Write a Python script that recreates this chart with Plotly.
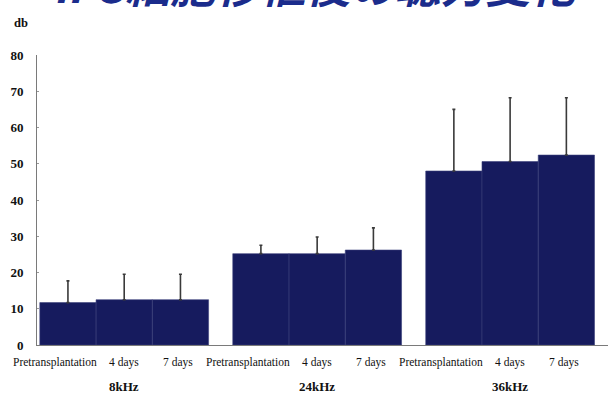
import plotly.graph_objects as go

# Hearing threshold (dB) before and after transplantation, by test frequency
frequencies = ["8kHz", "24kHz", "36kHz"]
timepoints = ["Pretransplantation", "4 days", "7 days"]
threshold_db = [
    [11.7, 12.5, 12.5],   # 8kHz
    [25.2, 25.2, 26.2],   # 24kHz
    [48.0, 50.6, 52.4],   # 36kHz
]
sd_db = [
    [6.0, 7.0, 7.0],
    [2.3, 4.6, 6.1],
    [17.0, 17.6, 15.8],
]
y_ticks = [0, 10, 20, 30, 40, 50, 60, 70, 80]
title_text = "iPS細胞移植後の聴力変化"

GROUP_GAP = 0.43   # space between frequency groups, in bar widths
BAR_COLOR = "#161b5e"
SERIF = "Liberation Serif"
PLOT_W, PLOT_H = 571, 290

xs, ys, errs = [], [], []
for g, (vals, sds) in enumerate(zip(threshold_db, sd_db)):
    for i, (v, s) in enumerate(zip(vals, sds)):
        xs.append(g * (len(timepoints) + GROUP_GAP) + i)
        ys.append(v)
        errs.append(s)

fig = go.Figure()
fig.add_trace(go.Bar(
    x=xs, y=ys, width=1,
    marker=dict(color=BAR_COLOR, line=dict(color="#3a3f7a", width=0.6)),
    error_y=dict(type="data", array=errs, arrayminus=[0] * len(errs),
                 symmetric=False, color="#3a3a3a", thickness=1.6, width=1.5),
    hoverinfo="y",
))

annotations = []
# time-point labels under each bar
for k, x in enumerate(xs):
    label = timepoints[k % len(timepoints)]
    shift = -13 if label == "Pretransplantation" else (-2 if label == "7 days" else 0)
    annotations.append(dict(
        x=x, y=0, xref="x", yref="y", text=label, showarrow=False,
        yanchor="top", yshift=-9, xshift=shift,
        font=dict(family=SERIF, size=11.5, color="#111"),
    ))
# frequency labels under each group
for g, name in enumerate(frequencies):
    annotations.append(dict(
        x=g * (len(timepoints) + GROUP_GAP) + 1, y=0, xref="x", yref="y",
        text="<b>%s</b>" % name, showarrow=False, yanchor="top", yshift=-32,
        font=dict(family=SERIF, size=13, color="#111"),
    ))
# unit label
annotations.append(dict(
    x=(12 - 37) / PLOT_W, y=1 + 32 / PLOT_H, xref="paper", yref="paper",
    text="<b>db</b>", showarrow=False, xanchor="left", yanchor="middle",
    font=dict(family=SERIF, size=12.5, color="#111"),
))
# heading, running off the top edge of the page
annotations.append(dict(
    x=0.49, y=1, xref="paper", yref="paper", text="<b><i>%s</i></b>" % title_text,
    showarrow=False, xanchor="center", yanchor="bottom", yshift=37,
    font=dict(family="Noto Sans CJK JP", size=45, color="#1b2c8c"),
))

fig.update_layout(
    width=608, height=397,
    margin=dict(l=37, r=0, t=55, b=52),
    paper_bgcolor="white", plot_bgcolor="white",
    showlegend=False,
    annotations=annotations,
    xaxis=dict(range=[-0.55, 9.6], showticklabels=False, ticks="",
               showgrid=False, zeroline=False, showline=True,
               linecolor="#7a7a7a", linewidth=1),
    yaxis=dict(range=[0, 80], tickvals=y_ticks, ticktext=[str(t) for t in y_ticks],
               showgrid=False, zeroline=False, showline=True,
               linecolor="#7a7a7a", linewidth=1, ticks="inside", ticklen=2,
               tickcolor="#999", ticklabelstandoff=10,
               tickfont=dict(family=SERIF, size=13, color="#111", weight="bold")),
)

fig.write_html("out.html")
